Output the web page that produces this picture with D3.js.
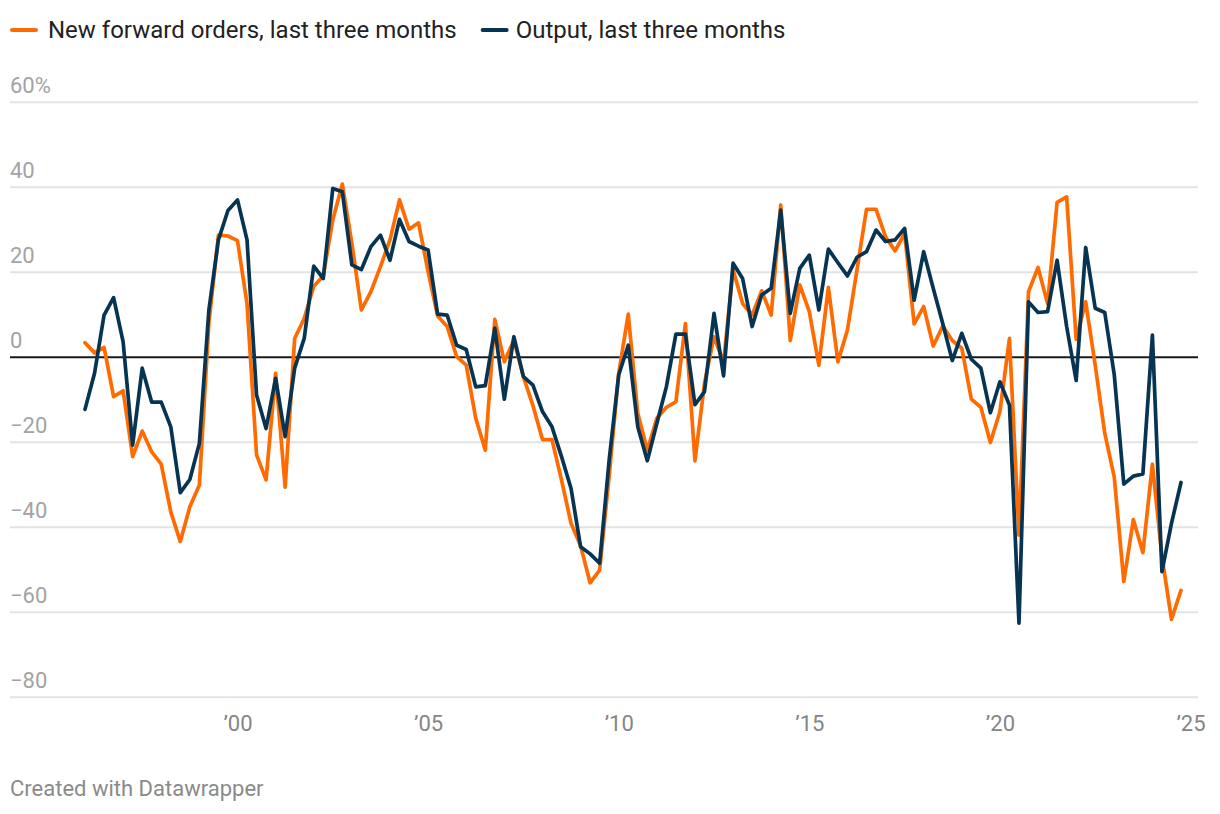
<!DOCTYPE html>
<html>
<head>
<meta charset="utf-8">
<script src="https://cdn.jsdelivr.net/npm/d3@7"></script>
<style>
  html, body { margin: 0; padding: 0; background: #fff; }
  svg { display: block; font-family: Roboto, "Noto Sans", sans-serif; }
</style>
</head>
<body>
<svg id="chart" width="1220" height="814"></svg>
<script>
// Quarterly data, 1996 Q1 – 2024 Q4
const startYear = 1996;
const seriesNames = ["New forward orders, last three months", "Output, last three months"];
const seriesColors = ["#ff6b00", "#063452"];

const newOrders = [
  3.3, 0.9, 2.2, -9.4, -8.0, -23.5, -17.5, -22.4, -25.3, -36.5, -43.5, -35.3,
  -30.2, 8.0, 28.6, 28.4, 27.3, 12.5, -23.1, -29.0, -3.9, -30.7, 4.3, 9.0,
  16.6, 19.0, 32.2, 40.6, 26.7, 11.0, 15.3, 21.2, 27.5, 36.9, 30.0, 31.5,
  20.0, 9.6, 7.1, 0.0, -2.0, -14.5, -22.0, 8.8, -1.2, 3.9, -4.7, -11.5,
  -19.5, -19.5, -29.0, -39.2, -44.5, -53.2, -50.2, -28.0, -3.9, 10.0, -13.3, -22.0,
  -14.5, -11.9, -10.6, 7.8, -24.5, -6.3, 4.7, -1.4, 20.5, 12.5, 9.8, 15.5,
  9.8, 35.7, 3.8, 16.9, 10.6, -2.0, 16.3, -1.2, 6.3, 20.4, 34.7, 34.7,
  28.2, 24.9, 29.0, 7.7, 11.8, 2.5, 7.2, 3.8, 2.0, -10.0, -11.9, -20.2,
  -12.9, 4.3, -42.0, 15.3, 21.0, 12.5, 36.3, 37.6, 4.1, 12.9, -2.0, -18.0,
  -28.4, -52.9, -38.3, -46.1, -25.3, -47.0, -61.8, -55.0
];
const output = [
  -12.4, -3.9, 9.8, 13.9, 3.5, -20.8, -2.7, -10.7, -10.7, -16.5, -32.0, -28.9,
  -20.4, 11.0, 27.5, 34.4, 36.9, 27.5, -9.0, -16.9, -5.1, -18.8, -2.7, 4.3,
  21.3, 18.4, 39.6, 38.8, 21.6, 20.5, 25.9, 28.6, 22.7, 32.3, 27.1, 26.0,
  25.1, 10.0, 9.8, 2.7, 1.7, -7.1, -6.8, 6.7, -10.0, 4.7, -4.7, -6.7,
  -12.9, -16.5, -23.5, -31.0, -44.7, -46.4, -48.6, -24.3, -4.3, 2.7, -16.5, -24.5,
  -15.7, -7.1, 5.3, 5.3, -11.3, -8.2, 10.2, -4.5, 22.0, 18.4, 7.1, 14.5,
  16.1, 34.5, 10.2, 20.8, 23.9, 11.0, 25.3, 22.1, 19.0, 23.4, 24.7, 29.8,
  27.1, 27.5, 30.2, 13.3, 24.7, 16.1, 7.8, -0.9, 5.5, -0.6, -2.7, -13.2,
  -5.9, -11.4, -62.7, 12.9, 10.4, 10.6, 22.7, 7.1, -5.6, 25.7, 11.4, 10.4,
  -4.3, -30.0, -28.1, -27.6, 5.1, -50.6, -39.2, -29.6
];
const yTicks = [60, 40, 20, 0, -20, -40, -60, -80];
const xTicks = [2000, 2005, 2010, 2015, 2020, 2025];
const xTickLabels = ["\u201900", "\u201905", "\u201910", "\u201915", "\u201920", "\u201925"];
const footerText = "Created with Datawrapper";

const dates = newOrders.map((_, i) => startYear + i * 0.25);

const svg = d3.select("#chart");
const x = d3.scaleLinear().domain([1996, 2024.75]).range([85, 1181]);
const y = d3.scaleLinear().domain([60, -80]).range([101.7, 696.7]);
const gridX0 = 10, gridX1 = 1198;

// gridlines
const yAxis = d3.axisLeft(y).tickValues(yTicks).tickSize(-(gridX1 - gridX0)).tickFormat("");
const gy = svg.append("g").attr("transform", `translate(${gridX1},0)`).call(yAxis);
gy.select(".domain").remove();
gy.selectAll(".tick line")
  .attr("transform", `translate(${-(gridX1 - gridX0)},0)`)
  .attr("x2", gridX1 - gridX0)
  .attr("stroke", d => d === 0 ? "#1a1a1a" : "#e3e3e3")
  .attr("stroke-width", 2);

// y labels
svg.append("g").selectAll("text").data(yTicks).join("text")
  .attr("x", gridX0)
  .attr("y", d => y(d) - 9)
  .attr("fill", "#a3a3a3")
  .attr("font-size", 22)
  .text(d => (d < 0 ? "\u2212" + Math.abs(d) : d) + (d === 60 ? "%" : ""));

// x axis labels
const xAxis = d3.axisBottom(x).tickValues(xTicks).tickSize(0).tickFormat((d, i) => xTickLabels[i]);
const gx = svg.append("g").attr("transform", "translate(0,712)").call(xAxis);
gx.select(".domain").remove();
gx.selectAll("text")
  .attr("font-size", 22)
  .attr("font-family", "Roboto, sans-serif")
  .attr("fill", "#858585")
  .attr("dy", "0.71em");

// lines
const line = d3.line().x((d, i) => x(dates[i])).y(d => y(d));
[newOrders, output].forEach((s, k) => {
  svg.append("path").datum(s)
    .attr("fill", "none")
    .attr("stroke", seriesColors[k])
    .attr("stroke-width", 3.7)
    .attr("stroke-linejoin", "round")
    .attr("stroke-linecap", "round")
    .attr("d", line);
});

// legend
const legend = svg.append("g").attr("transform", "translate(12,30)");
let lx = 0;
seriesNames.forEach((name, k) => {
  const g = legend.append("g").attr("transform", `translate(${lx},0)`);
  g.append("line").attr("x1", 0).attr("x2", 24).attr("y1", 0).attr("y2", 0)
    .attr("stroke", seriesColors[k]).attr("stroke-width", 4).attr("stroke-linecap", "round");
  const t = g.append("text").attr("x", k === 0 ? 36 : 33).attr("y", 0).attr("dy", "0.35em")
    .attr("font-size", 24).attr("fill", "#222").text(name);
  lx += 36 + t.node().getComputedTextLength() + 26;
});

// footer
svg.append("text").attr("x", 10).attr("y", 796)
  .attr("font-size", 22).attr("fill", "#8a8a8a").text(footerText);
</script>
</body>
</html>
